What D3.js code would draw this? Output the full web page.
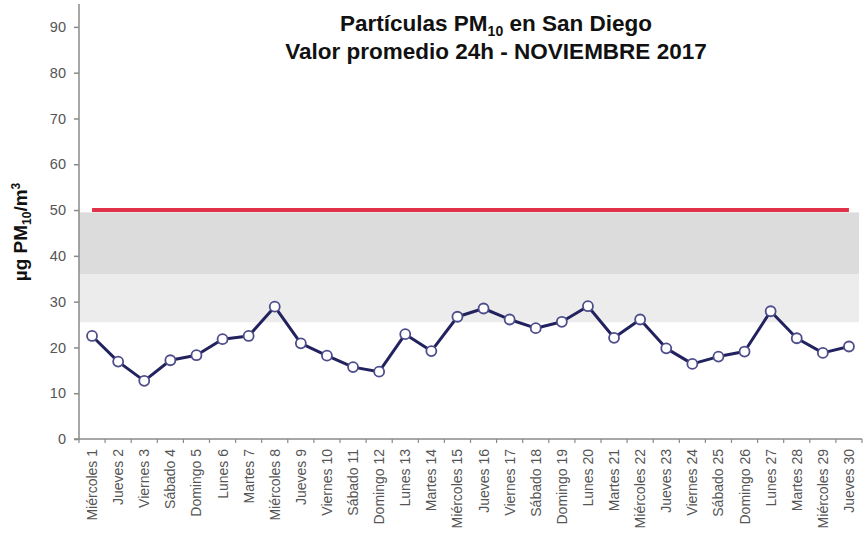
<!DOCTYPE html>
<html>
<head>
<meta charset="utf-8">
<script src="https://cdn.jsdelivr.net/npm/d3@7"></script>
<style>
  body { margin: 0; background: #fff; }
  svg { display: block; font-family: "Liberation Sans", Arial, sans-serif; }
</style>
</head>
<body>
<div id="chart"></div>
<script>
// days of November 2017
var days = ["Miércoles 1", "Jueves 2", "Viernes 3", "Sábado 4", "Domingo 5", "Lunes 6", "Martes 7",
  "Miércoles 8", "Jueves 9", "Viernes 10", "Sábado 11", "Domingo 12", "Lunes 13", "Martes 14",
  "Miércoles 15", "Jueves 16", "Viernes 17", "Sábado 18", "Domingo 19", "Lunes 20", "Martes 21",
  "Miércoles 22", "Jueves 23", "Viernes 24", "Sábado 25", "Domingo 26", "Lunes 27", "Martes 28",
  "Miércoles 29", "Jueves 30"];
// 24h average PM10 (ug/m3)
var pm10 = [22.5, 16.9, 12.7, 17.2, 18.3, 21.8, 22.5, 28.9, 20.9, 18.2, 15.7, 14.7, 22.9, 19.2,
  26.7, 28.5, 26.1, 24.2, 25.6, 29.0, 22.1, 26.1, 19.8, 16.4, 18.0, 19.1, 27.9, 22.0, 18.8, 20.2];
var limit = 50;            // norma
var bandHigh = [36, 49.5]; // dark gray band
var bandLow = [25.5, 36];  // light gray band
var yTicks = [0, 10, 20, 30, 40, 50, 60, 70, 80, 90];

var W = 866, H = 539;
var svg = d3.select("#chart").append("svg").attr("width", W).attr("height", H);

var x = d3.scaleBand().domain(days).range([79, 862]).padding(0);
var y = d3.scaleLinear().domain([0, 95]).range([439, 4]);
var cx = function(d) { return x(d) + x.bandwidth() / 2; };

// background bands
svg.append("rect")
  .attr("x", x.range()[0]).attr("width", x.range()[1] - x.range()[0] - 3)
  .attr("y", y(bandLow[1])).attr("height", y(bandLow[0]) - y(bandLow[1]))
  .attr("fill", "#ececec");
svg.append("rect")
  .attr("x", x.range()[0]).attr("width", x.range()[1] - x.range()[0] - 3)
  .attr("y", y(bandHigh[1])).attr("height", y(bandHigh[0]) - y(bandHigh[1]))
  .attr("fill", "#dcdcdc");

// limit line
svg.append("line")
  .attr("x1", cx(days[0])).attr("x2", cx(days[days.length - 1]))
  .attr("y1", y(limit)).attr("y2", y(limit))
  .attr("stroke", "#e0334a").attr("stroke-width", 4);

// y axis
var yAxis = d3.axisLeft(y).tickValues(yTicks).tickSize(5).tickPadding(8);
var gy = svg.append("g").attr("transform", "translate(79,0)").call(yAxis);
gy.select(".domain").attr("d", "M0," + y.range()[1] + "V" + y.range()[0]);
gy.selectAll("path, line").attr("stroke", "#8a8a8a").attr("stroke-width", 1.5);
gy.selectAll("text").attr("fill", "#555").style("font-size", "14.5px");

// x axis: ticks between categories
var gx = svg.append("g").attr("transform", "translate(0,439)");
gx.append("line").attr("x1", 74).attr("x2", x.range()[1])
  .attr("stroke", "#8a8a8a").attr("stroke-width", 1.5);
gx.selectAll(".tk").data(days.concat(["end"])).enter().append("line")
  .attr("x1", function(d, i) { return i < days.length ? x(d) : x.range()[1]; })
  .attr("x2", function(d, i) { return i < days.length ? x(d) : x.range()[1]; })
  .attr("y1", 0).attr("y2", 4)
  .attr("stroke", "#8a8a8a").attr("stroke-width", 1.2);
gx.selectAll(".lbl").data(days).enter().append("text")
  .attr("transform", function(d) { return "translate(" + (cx(d) + 5) + ",10) rotate(-90)"; })
  .attr("text-anchor", "end")
  .attr("fill", "#555")
  .style("font-size", "14px")
  .text(function(d) { return d; });

// series line
var line = d3.line().x(function(d, i) { return cx(days[i]); }).y(function(d) { return y(d); });
svg.append("path").datum(pm10)
  .attr("d", line).attr("fill", "none")
  .attr("stroke", "#22225e").attr("stroke-width", 3).attr("stroke-linejoin", "round");
svg.selectAll(".pt").data(pm10).enter().append("circle")
  .attr("cx", function(d, i) { return cx(days[i]); })
  .attr("cy", function(d) { return y(d); })
  .attr("r", 5)
  .attr("fill", "#fff").attr("stroke", "#4d4d8c").attr("stroke-width", 1.8);

// title
var title = svg.append("text").attr("text-anchor", "middle")
  .attr("font-weight", "bold").attr("fill", "#111").style("font-size", "22.5px");
var t1 = title.append("tspan").attr("x", 496).attr("y", 31);
t1.append("tspan").text("Partículas PM");
t1.append("tspan").attr("dy", 5).style("font-size", "14px").text("10");
t1.append("tspan").attr("dy", -5).text(" en San Diego");
title.append("tspan").attr("x", 496).attr("y", 59).text("Valor promedio 24h - NOVIEMBRE 2017");

// y axis title
var yl = svg.append("text").attr("transform", "translate(27,232) rotate(-90)")
  .attr("text-anchor", "middle").attr("font-weight", "bold").attr("fill", "#111")
  .style("font-size", "19px");
yl.append("tspan").text("µg PM");
yl.append("tspan").attr("dy", 4).style("font-size", "12px").text("10");
yl.append("tspan").attr("dy", -4).text("/m");
yl.append("tspan").attr("dy", -7).style("font-size", "12px").text("3");
</script>
</body>
</html>
